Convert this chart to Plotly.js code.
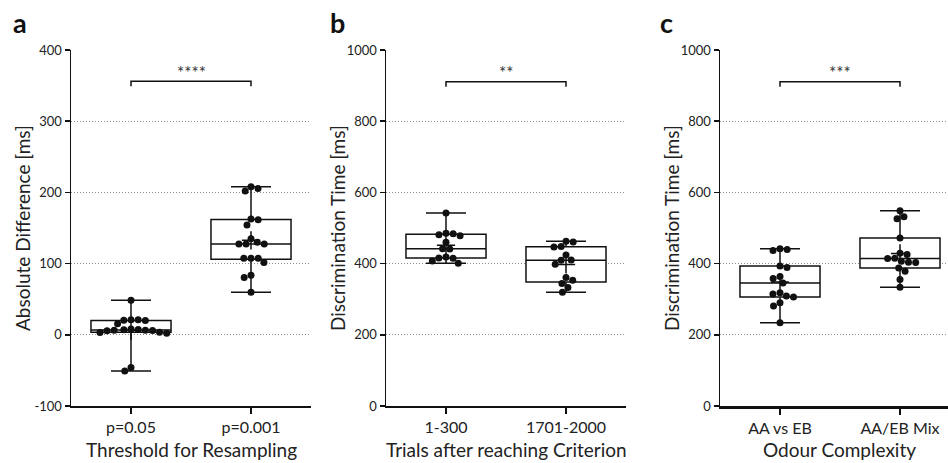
<!DOCTYPE html>
<html><head><meta charset="utf-8">
<script src="https://cdn.plot.ly/plotly-3.0.1.min.js"></script>
<style>html,body{margin:0;padding:0;background:#fff}</style>
</head><body><div id="chart" style="width:948px;height:463px"></div>
<script>
// ---- data ----
const catsA = ['p=0.05', 'p=0.001'];
const catsB = ['1-300', '1701-2000'];
const catsC = ['AA vs EB', 'AA/EB Mix'];

const diffP005 = [48.6, 21, 21, 20, 20.5, 15.4, 8, 7.5, 6.5, 5.6, 6.5, 7, 6, 3.3, 2.3, 3.7, -45.8, -50.9];
const diffP001 = [205.6, 207.9, 201.9, 162.6, 161.7, 154.2, 135, 129.9, 127.6, 127.6, 127.6, 107.5, 107.5, 107.5, 101.4, 83.6, 80.4, 59.8];

const trials1to300 = [542, 484, 478.5, 481.3, 485, 459.8, 442, 441, 418.7, 415, 401, 407.5, 416];
const trials1701to2000 = [462.6, 460.7, 447.7, 446.7, 424.3, 410.3, 409.3, 398, 360.7, 353.3, 344, 332.7, 319.6];

const odourAAvsEB = [439.4, 436.6, 442, 388.7, 393.4, 357.8, 364, 345.6, 314.6, 306, 309, 318.4, 290, 281, 234];
const odourMix = [548.2, 531.3, 525.7, 472.2, 429, 425.3, 415, 406.6, 402.8, 403.8, 414, 387.8, 378.4, 355, 333.4];

const sigLabels = ['****', '**', '***'];
const bracketY = [356, 911, 911];

const yTicksA = [-100, 0, 100, 200, 300, 400];
const yTickTextA = ['-100', '0', '100', '200', '300', '400'];
const yTicksBC = [0, 200, 400, 600, 800, 1000];

// ---- layout constants ----
const W = 948, H = 463, MT = 50, MB = 57;
const plotH = H - MT - MB;          // 356 px
const pxPerCat = 120;
const dom = [[71, 311], [386, 626], [720, 948]];
const xr = [[-0.5, 1.5], [-0.5, 1.5], [-0.5, 1.4]];
const yr = [[-100, 400], [0, 1000], [0, 1000]];

// ---- stats helpers ----
function sorted(a) { return a.slice().sort((p, q) => p - q); }
function quant(a, q) {
  const s = sorted(a), n = s.length, pos = q * (n + 1);
  const lo = Math.floor(pos), f = pos - lo;
  if (lo < 1) return s[0];
  if (lo >= n) return s[n - 1];
  return s[lo - 1] + f * (s[lo] - s[lo - 1]);
}
function median(a) {
  const s = sorted(a), n = s.length;
  return n % 2 ? s[(n - 1) / 2] : (s[n / 2 - 1] + s[n / 2]) / 2;
}
function mean(a) { return a.reduce((p, q) => p + q, 0) / a.length; }

// simple beeswarm: returns x offsets in category units
function swarm(vals, pxPerUnit, d) {
  const idx = vals.map((v, i) => i).sort((i, j) => vals[j] - vals[i]);
  const placed = [], offs = new Array(vals.length).fill(0);
  let bal = 0;
  idx.forEach(i => {
    const y = vals[i] * pxPerUnit;
    const near = placed.filter(p => Math.abs(p.y - y) < d);
    const cands = [0];
    near.forEach(p => {
      const h = Math.sqrt(d * d - (p.y - y) * (p.y - y));
      cands.push(p.x + h, p.x - h);
    });
    cands.sort((a, b) => {
      const da = Math.abs(a), db = Math.abs(b);
      if (Math.abs(da - db) > 1e-6) return da - db;
      return bal > 0 ? a - b : b - a;
    });
    let pick = 0;
    for (const c of cands) {
      const ok = near.every(p => {
        const h = Math.sqrt(d * d - (p.y - y) * (p.y - y));
        return Math.abs(c - p.x) >= h - 1e-6;
      });
      if (ok) { pick = c; break; }
    }
    bal += Math.sign(pick);
    placed.push({ x: pick, y: y });
    offs[i] = pick / pxPerCat;
  });
  return offs;
}

const panels = [
  { cats: catsA, groups: [diffP005, diffP001] },
  { cats: catsB, groups: [trials1to300, trials1701to2000] },
  { cats: catsC, groups: [odourAAvsEB, odourMix] }
];

const ink = '#111';
const traces = [], shapes = [], annotations = [];
const layout = {
  width: W, height: H, margin: { l: 0, r: 0, t: MT, b: MB },
  paper_bgcolor: '#fff', plot_bgcolor: 'rgba(0,0,0,0)', showlegend: false,
  font: { family: 'Lato, "Open Sans", sans-serif', color: '#222' }
};

panels.forEach((P, k) => {
  const sx = k === 0 ? '' : String(k + 1);
  const xa = 'x' + sx, ya = 'y' + sx;
  const pxPerUnit = plotH / (yr[k][1] - yr[k][0]);

  traces.push({
    type: 'box', xaxis: xa, yaxis: ya, x: [0, 1],
    q1: P.groups.map(g => quant(g, 0.25)),
    median: P.groups.map(median),
    q3: P.groups.map(g => quant(g, 0.75)),
    lowerfence: P.groups.map(g => Math.min.apply(null, g)),
    upperfence: P.groups.map(g => Math.max.apply(null, g)),
    boxpoints: false, width: 0.667, whiskerwidth: 0.5,
    fillcolor: '#fff', line: { color: ink, width: 1.5 }, hoverinfo: 'skip'
  });
  P.groups.forEach((g, gi) => {
    const offs = swarm(g, pxPerUnit, 7.2);
    traces.push({
      type: 'scatter', mode: 'markers', xaxis: xa, yaxis: ya,
      x: g.map((v, i) => gi + offs[i]), y: g,
      marker: { size: 7, color: ink }, hoverinfo: 'skip'
    });
  });
  traces.push({
    type: 'scatter', mode: 'markers', xaxis: xa, yaxis: ya,
    x: [0, 1], y: P.groups.map(mean), hoverinfo: 'skip',
    marker: { symbol: 'cross-thin', size: 13, color: ink, line: { color: ink, width: 1.5 } }
  });

  const drop = 5 / pxPerUnit;
  shapes.push({
    type: 'path', xref: xa, yref: ya,
    path: `M 0,${bracketY[k] - drop} L 0,${bracketY[k]} L 1,${bracketY[k]} L 1,${bracketY[k] - drop}`,
    line: { color: ink, width: 1.5 }
  });
  annotations.push({
    xref: xa, yref: ya, x: 0.5, y: bracketY[k], text: sigLabels[k], showarrow: false,
    yanchor: 'middle', yshift: 9, font: { size: 17, color: '#333' }
  });

  layout['xaxis' + sx] = {
    domain: [dom[k][0] / W, dom[k][1] / W], anchor: ya, range: xr[k],
    tickvals: [0, 1], ticktext: P.cats, showgrid: false, zeroline: false,
    showline: true, linecolor: ink, linewidth: k === 2 ? 2.5 : 1.5,
    ticks: 'outside', ticklen: 6, tickwidth: 1.5, tickcolor: ink,
    tickfont: { size: 16, color: '#222' }, fixedrange: true
  };
  layout['yaxis' + sx] = {
    domain: [0, 1], anchor: xa, range: yr[k],
    tickvals: k === 0 ? yTicksA : yTicksBC,
    ticktext: k === 0 ? yTickTextA : yTicksBC.map(String),
    showgrid: true, gridcolor: '#8a8a8a', griddash: '1px,2px', gridwidth: 1, zeroline: false,
    showline: true, linecolor: ink, linewidth: 1.5,
    ticks: 'outside', ticklen: 5, tickwidth: 1.5, tickcolor: ink,
    tickfont: { size: 13, color: '#222' }, fixedrange: true
  };
});

const yTitles = ['Absolute Difference [ms]', 'Discrimination Time [ms]', 'Discrimination Time [ms]'];
const xTitles = ['Threshold for Resampling', 'Trials after reaching Criterion', 'Odour Complexity'];
const letters = ['a', 'b', 'c'];
const yTitleX = [22, 337, 671];
const letterX = [11, 328, 658];
const xTitleCx = [191, 506, 839];
for (let k = 0; k < 3; k++) {
  annotations.push({
    xref: 'paper', yref: 'paper', x: yTitleX[k] / W, y: 0.5, textangle: -90,
    xanchor: 'center', yanchor: 'middle', showarrow: false, text: yTitles[k],
    font: { size: 19, color: '#222' }
  });
  annotations.push({
    xref: 'paper', yref: 'paper', x: xTitleCx[k] / W, y: (H - MB - 449) / plotH,
    xanchor: 'center', yanchor: 'middle', showarrow: false, text: xTitles[k],
    font: { size: 19, color: '#222' }
  });
  annotations.push({
    xref: 'paper', yref: 'paper', x: letterX[k] / W, y: (H - MB - 22) / plotH,
    xanchor: 'left', yanchor: 'middle', showarrow: false, text: '<b>' + letters[k] + '</b>',
    font: { size: 27, color: '#111' }
  });
}
layout.shapes = shapes;
layout.annotations = annotations;

Plotly.newPlot('chart', traces, layout, { staticPlot: true, displayModeBar: false });
</script></body></html>
